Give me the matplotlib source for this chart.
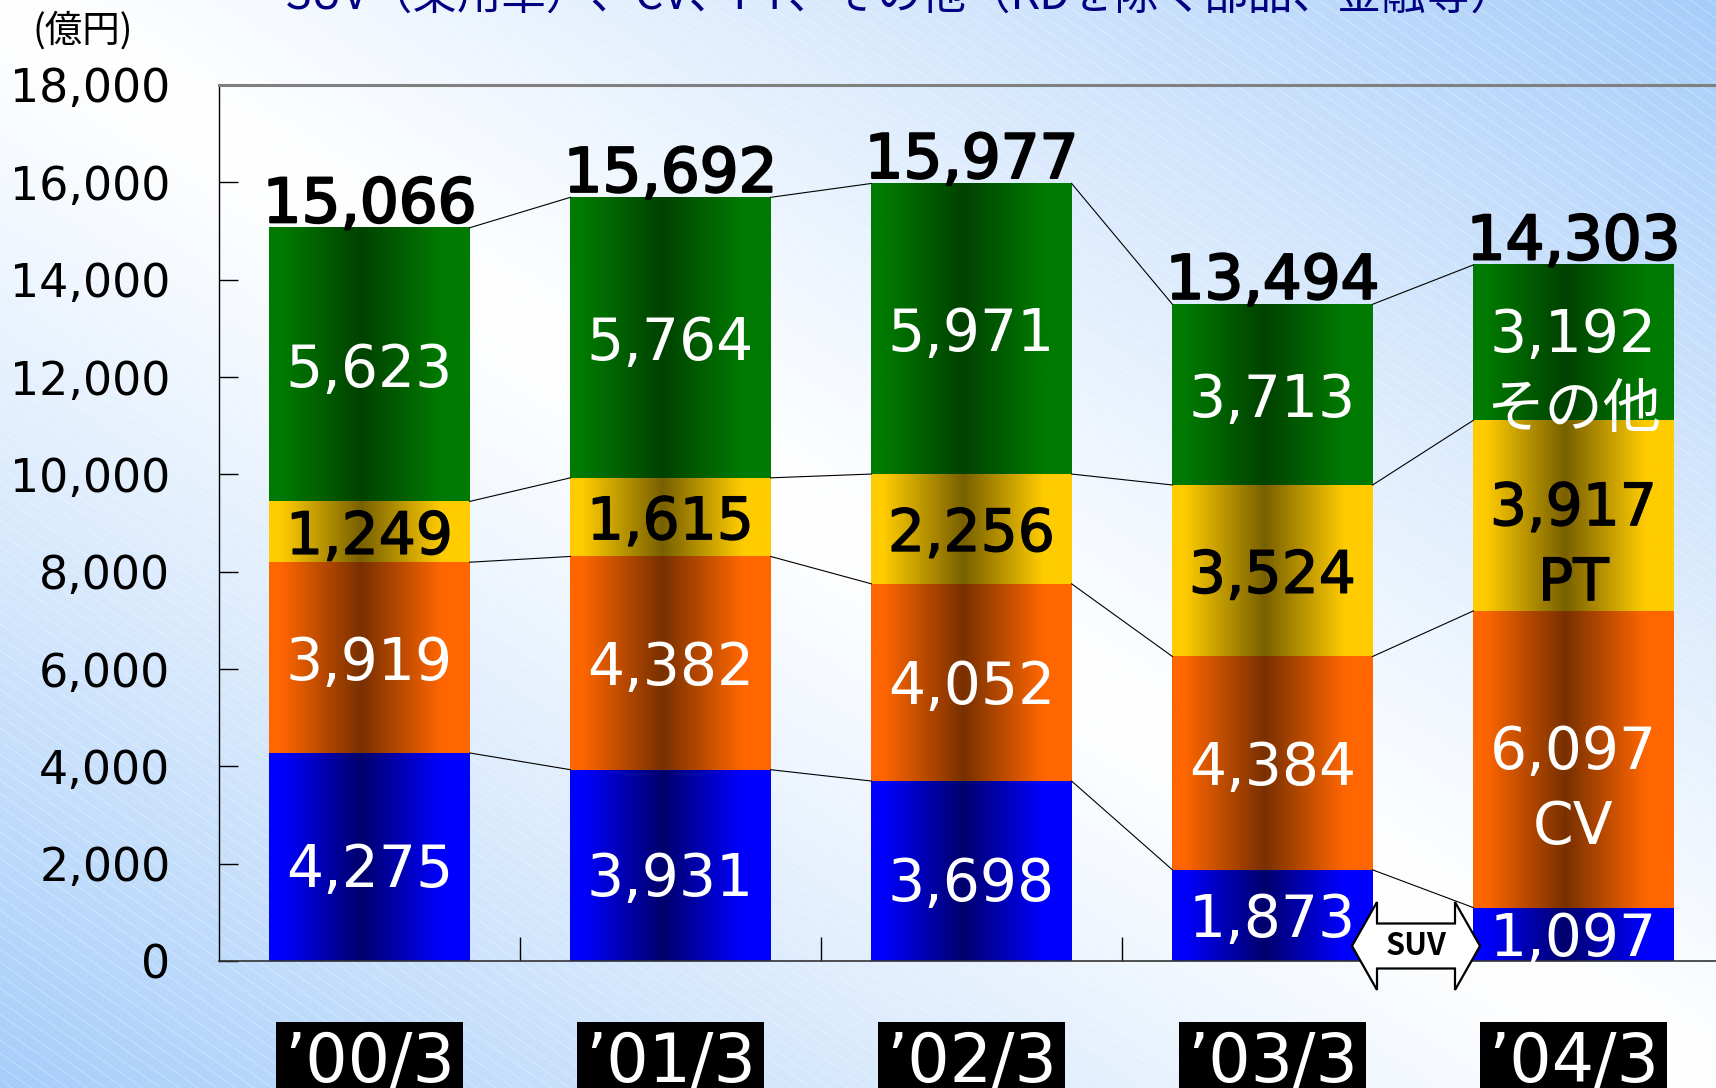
import numpy as np
import matplotlib
matplotlib.use("Agg")
import matplotlib.pyplot as plt
from matplotlib import transforms
from matplotlib.patches import Polygon
import matplotlib.patheffects as pe

plt.rcParams['font.family'] = ['DejaVu Sans', 'Noto Sans CJK JP']
JP = ['Noto Sans CJK JP', 'DejaVu Sans']

# 売上高の内訳（億円）
years = ["’00/3", "’01/3", "’02/3", "’03/3", "’04/3"]
segments = ["SUV", "CV", "PT", "その他"]
suv = [4275, 3931, 3698, 1873, 1097]
cv = [3919, 4382, 4052, 4384, 6097]
pt = [1249, 1615, 2256, 3524, 3917]
other = [5623, 5764, 5971, 3713, 3192]
totals = [15066, 15692, 15977, 13494, 14303]
yticks = list(range(0, 18001, 2000))

title = "SUV（乗用車）、CV、PT、その他（KDを除く部品、金融等）"
unit = "(億円)"

W, H = 1716, 1088
DPI = 100
fig = plt.figure(figsize=(W / DPI, H / DPI), dpi=DPI)

# background: white along the diagonal, light blue in two corners, faint hatch
yy, xx = np.mgrid[0:H, 0:W]
t = np.clip(np.abs(xx / W - yy / H), 0, 1) ** 1.15
sky = np.array([166, 205, 250]) / 255
bg_img = (1 - t[..., None]) + t[..., None] * sky
c = (yy - 0.7 * xx) % 13
dist = np.minimum(c, 13 - c) * 0.82
hatch = np.clip(1 - dist / 0.8, 0, 1)[..., None] * 0.35
bg_img = bg_img * (1 - hatch) + hatch
bg = fig.add_axes([0, 0, 1, 1], zorder=0)
bg.imshow(bg_img, aspect='auto', interpolation='nearest')
bg.axis('off')

ax = fig.add_axes([219 / W, (H - 961) / H, (1724 - 219) / W, (961 - 85) / H], zorder=1)
ax.set_facecolor('none')


def shade(edge, mid, n=300):
    u = np.linspace(0, 1, n)
    f = np.clip(1 - np.abs(u - 0.46) / 0.40, 0, 1)
    e = np.array(matplotlib.colors.to_rgb(edge))
    m = np.array(matplotlib.colors.to_rgb(mid))
    return (e[None, :] * (1 - f[:, None]) + m[None, :] * f[:, None])[None, :, :]


x = np.arange(len(years))
width = 0.665
series = [suv, cv, pt, other]
edge_cols = ['#0000FF', '#FF6600', '#FFCC00', '#007A00']
mid_cols = ['#00006C', '#783000', '#786000', '#004200']
text_cols = ['white', 'white', 'black', 'white']

bottom = np.zeros(len(years))
bounds = []
for k, (vals, ec, mc, tc) in enumerate(zip(series, edge_cols, mid_cols, text_cols)):
    bars = ax.bar(x, vals, width, bottom=bottom, color='none', linewidth=0, zorder=2)
    for i, rect in enumerate(bars):
        x0, y0 = rect.get_x(), rect.get_y()
        ax.imshow(shade(ec, mc), extent=(x0, x0 + rect.get_width(), y0, y0 + rect.get_height()),
                  aspect='auto', interpolation='bilinear', zorder=2)
        label = f"{vals[i]:,}"
        dy = -10 if (k == 0 and vals[i] > 3000) else -4
        if i == len(years) - 1 and k > 0:
            label += "\n" + segments[k]
            dy = -22
        effects = [pe.withStroke(linewidth=1.0, foreground='black')] if tc == 'black' else None
        ax.annotate(label, (x[i], y0 + rect.get_height() / 2), xytext=(0, dy),
                    textcoords='offset points', ha='center', va='center',
                    fontsize=42, color=tc, linespacing=1.4, zorder=4, path_effects=effects)
    bottom = bottom + np.array(vals)
    bounds.append(bottom.copy())

# connecting lines between segment boundaries
for i in range(len(x) - 1):
    for b in bounds:
        ax.plot([x[i] + width / 2, x[i + 1] - width / 2], [b[i], b[i + 1]],
                color='black', lw=0.8, zorder=3)

for i, tot in enumerate(totals):
    ax.annotate(f"{tot:,}", (x[i], tot), xytext=(0, 4), textcoords='offset points',
                ha='center', va='baseline', fontsize=44, zorder=4,
                path_effects=[pe.withStroke(linewidth=1.6, foreground='black')])

ax.set_xlim(-0.5, len(years) - 0.5)
ax.set_ylim(0, 18000)
ax.set_yticks(yticks)
ax.set_yticklabels([f"{v:,}" for v in yticks])
ax.set_xticks(x[:-1] + 0.5)
ax.set_xticklabels([])
ax.tick_params(axis='y', direction='in', length=14, width=1, pad=35, labelsize=33)
ax.tick_params(axis='x', direction='in', length=17, width=1)
ax.spines['right'].set_visible(False)
ax.spines['top'].set_color('#808080')
ax.spines['top'].set_linewidth(2.2)
ax.spines['left'].set_linewidth(1.0)
ax.spines['bottom'].set_color('#333333')
ax.spines['bottom'].set_linewidth(1.2)

# year labels in black boxes
xfig = transforms.blended_transform_factory(ax.transData, fig.transFigure)
for i, lbl in enumerate(years):
    ax.text(x[i], 6 / H, lbl, transform=xfig, ha='center', va='baseline', color='white',
            fontsize=48, bbox=dict(boxstyle='square,pad=0.12', fc='black', ec='none'),
            clip_on=False)

# SUV double arrow between the last two bars
fig.canvas.draw()
cx, cy = ax.transData.transform((3.5, 0))
cx -= 7
cy += 15
hx, hb, hh, bh = 64, 39, 44, 22.5
verts = [(-hx, 0), (-hb, hh), (-hb, bh), (hb, bh), (hb, hh), (hx, 0),
         (hb, -hh), (hb, -bh), (-hb, -bh), (-hb, -hh)]
arrow = Polygon([(cx + vx, cy + vy) for vx, vy in verts], closed=True, fc='white', ec='black',
                lw=1.6, transform=transforms.IdentityTransform(), zorder=5, clip_on=False)
ax.add_patch(arrow)
ax.text(cx / W, cy / H, "SUV", transform=fig.transFigure, ha='center', va='center',
        fontsize=22, fontweight='bold', family=JP, zorder=6)

fig.text(33 / W, 1 - 12 / H, unit, ha='left', va='top', fontsize=27, family=JP)
fig.text(285 / W, 1 - 9 / H, title, ha='left', va='baseline', fontsize=32, color='#000080',
         family=JP)

fig.savefig("out.png", dpi=DPI)
